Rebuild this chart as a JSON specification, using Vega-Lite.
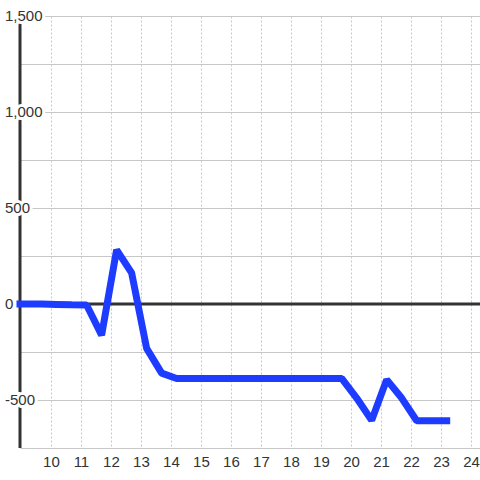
{
  "$schema": "https://vega.github.io/schema/vega-lite/v6.json",
  "width": 460,
  "height": 432,
  "autosize": {"type": "none"},
  "padding": {"left": 20, "top": 16, "right": 0, "bottom": 32},
  "config": {
    "view": {"stroke": null},
    "font": "Liberation Sans"
  },
  "datasets": {
    "series": [
      {"t": 8.97, "v": 0},
      {"t": 9.69, "v": 0},
      {"t": 10.19, "v": -2},
      {"t": 10.69, "v": -4},
      {"t": 11.19, "v": -5},
      {"t": 11.69, "v": -162},
      {"t": 12.19, "v": 282},
      {"t": 12.69, "v": 162},
      {"t": 13.19, "v": -231},
      {"t": 13.69, "v": -360},
      {"t": 14.19, "v": -388},
      {"t": 14.69, "v": -388},
      {"t": 15.19, "v": -388},
      {"t": 15.69, "v": -388},
      {"t": 16.19, "v": -388},
      {"t": 16.69, "v": -388},
      {"t": 17.19, "v": -388},
      {"t": 17.69, "v": -388},
      {"t": 18.19, "v": -388},
      {"t": 18.69, "v": -388},
      {"t": 19.19, "v": -388},
      {"t": 19.69, "v": -388},
      {"t": 20.19, "v": -490},
      {"t": 20.69, "v": -606},
      {"t": 21.19, "v": -394},
      {"t": 21.69, "v": -490},
      {"t": 22.19, "v": -608},
      {"t": 22.69, "v": -608},
      {"t": 23.19, "v": -608}
    ],
    "ticks": [
      {"v": 1500, "label": "1,500"},
      {"v": 1000, "label": "1,000"},
      {"v": 500, "label": "500"},
      {"v": 0, "label": "0"},
      {"v": -500, "label": "-500"}
    ],
    "axisline": [{"x0": 8.97}],
    "zeroline": [{"y0": 0}]
  },
  "layer": [
    {
      "data": {"name": "series"},
      "mark": {"type": "line", "opacity": 0},
      "encoding": {
        "x": {
          "field": "t",
          "type": "quantitative",
          "scale": {"domain": [8.97, 24.3], "nice": false, "zero": false},
          "axis": {
            "values": [10, 11, 12, 13, 14, 15, 16, 17, 18, 19, 20, 21, 22, 23, 24],
            "tickCount": 15,
            "title": null,
            "domain": false,
            "ticks": false,
            "labelPadding": 6,
            "labelFontSize": 15,
            "labelColor": "#333333",
            "labelFlush": false,
            "labelOverlap": false,
            "labelSeparation": 0,
            "grid": true,
            "gridColor": "#c8c8c8",
            "gridDash": [2, 2],
            "gridWidth": 1
          }
        },
        "y": {
          "field": "v",
          "type": "quantitative",
          "scale": {"domain": [-750, 1500], "nice": false, "zero": false},
          "axis": {
            "values": [-750, -500, -250, 0, 250, 500, 750, 1000, 1250, 1500],
            "title": null,
            "domain": false,
            "ticks": false,
            "labels": false,
            "grid": true,
            "gridColor": "#c8c8c8",
            "gridWidth": 1
          }
        }
      }
    },
    {
      "data": {"name": "axisline"},
      "mark": {"type": "rule", "color": "#333333", "strokeWidth": 3},
      "encoding": {
        "x": {"field": "x0", "type": "quantitative"}
      }
    },
    {
      "data": {"name": "zeroline"},
      "mark": {"type": "rule", "color": "#333333", "strokeWidth": 3},
      "encoding": {
        "y": {"field": "y0", "type": "quantitative"}
      }
    },
    {
      "data": {"name": "ticks"},
      "mark": {
        "type": "text",
        "align": "left",
        "baseline": "middle",
        "dx": -15,
        "fontSize": 15,
        "fill": "white",
        "stroke": "white",
        "strokeWidth": 6,
        "strokeJoin": "miter"
      },
      "encoding": {
        "x": {"datum": 8.97, "type": "quantitative"},
        "y": {"field": "v", "type": "quantitative"},
        "text": {"field": "label"}
      }
    },
    {
      "data": {"name": "series"},
      "mark": {
        "type": "line",
        "color": "#1e3cff",
        "strokeWidth": 7,
        "strokeCap": "square",
        "strokeJoin": "bevel"
      },
      "encoding": {
        "x": {"field": "t", "type": "quantitative"},
        "y": {"field": "v", "type": "quantitative"}
      }
    },
    {
      "data": {"name": "ticks"},
      "mark": {
        "type": "text",
        "align": "left",
        "baseline": "middle",
        "dx": -15,
        "fontSize": 15,
        "color": "#333333"
      },
      "encoding": {
        "x": {"datum": 8.97, "type": "quantitative"},
        "y": {"field": "v", "type": "quantitative"},
        "text": {"field": "label"}
      }
    }
  ]
}
